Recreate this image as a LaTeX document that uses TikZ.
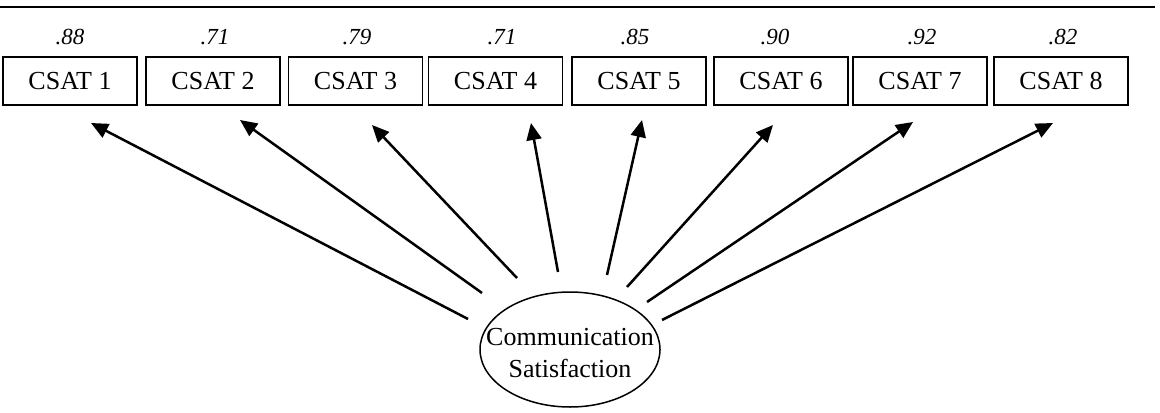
\documentclass[tikz,border=0pt]{standalone}
\usepackage{fontspec}
\setmainfont{Liberation Serif}
\usetikzlibrary{arrows.meta,shapes.geometric}
\begin{document}
\begin{tikzpicture}[x=0.5pt,y=-0.5pt,
  itembox/.style={draw,line width=0.65pt,minimum width=67pt,minimum height=24pt,
    inner sep=0pt,font=\fontsize{13}{15}\selectfont},
  loading/.style={font=\fontsize{11.5}{13}\itshape\selectfont,inner sep=0pt},
  path/.style={line width=1.25pt,-{Triangle[length=8.5pt,width=7.5pt]}}]
\useasboundingbox (0,0) rectangle (1160,412);
% top rule
\draw[line width=1pt] (0,6.5) -- (1155,6.5);
% observed indicators
\foreach \i/\x in {1/70,2/213,3/355.5,4/495.5,5/639,6/781,7/920,8/1061}
  \node[itembox] (c\i) at (\x,81) {CSAT \i};
% standardized loadings
\foreach \i/\x/\v in {1/70/.88,2/215/.71,3/357/.79,4/502/.71,5/635/.85,6/775/.90,7/922/.92,8/1063/.82}
  \node[loading] (l\i) at (\x,37) {\v};
% latent factor
\node[draw,ellipse,line width=0.75pt,minimum width=90pt,minimum height=57.5pt,inner sep=0pt] (cs) at (570,349.5) {};
\node[align=center,inner sep=0pt,font=\fontsize{13}{16}\selectfont] (cst) at (570,353) {Communication\\Satisfaction};
% path end points
\coordinate (s1) at (468,319);  \coordinate (t1) at (91,123);
\coordinate (s2) at (482,293);  \coordinate (t2) at (240,120);
\coordinate (s3) at (517,278);  \coordinate (t3) at (372,125);
\coordinate (s4) at (558,272);  \coordinate (t4) at (531,123);
\coordinate (s5) at (607,275);  \coordinate (t5) at (642,120);
\coordinate (s6) at (627,287);  \coordinate (t6) at (773,125);
\coordinate (s7) at (647,302);  \coordinate (t7) at (913,122);
\coordinate (s8) at (662,320);  \coordinate (t8) at (1053,123);
\foreach \i in {1,...,8}
  \draw[path] (s\i) -- (t\i);
\end{tikzpicture}
\end{document}
